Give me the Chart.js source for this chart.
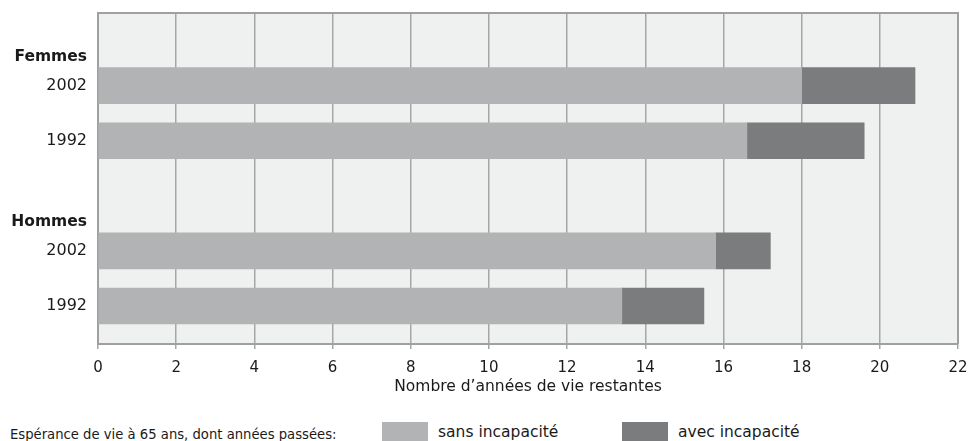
<!DOCTYPE html>
<html lang="fr">
<head>
<meta charset="UTF-8">
<title>Espérance de vie à 65 ans</title>
<script src="https://cdn.jsdelivr.net/npm/chart.js"></script>
<style>
  body { margin: 0; background: #fff; font-family: 'DejaVu Sans', sans-serif; color: #1a1a1a; }
  .wrap { position: relative; width: 974px; height: 441px; overflow: hidden; }
  .chart-box { position: absolute; left: 0; top: 0; width: 974px; height: 400px; }
  .legend { position: absolute; left: 0; top: 422px; width: 974px; height: 20px; font-size: 15.5px; }
  .legend .caption { position: absolute; left: 10px; top: 4px; font-size: 13.2px; line-height: 18px; }
  .legend .swatch { position: absolute; top: 0; width: 46px; height: 20px; }
  .legend .label { position: absolute; top: 0; line-height: 20px; }
</style>
</head>
<body>
<div class="wrap">
  <div class="chart-box"><canvas id="chart"></canvas></div>
  <div class="legend">
    <span class="caption">Espérance de vie à 65 ans, dont années passées:</span>
    <span class="swatch" style="left:382px;background:#b2b3b4"></span>
    <span class="label" style="left:438px" id="lab0"></span>
    <span class="swatch" style="left:622px;background:#7b7c7d"></span>
    <span class="label" style="left:678px" id="lab1"></span>
  </div>
</div>
<script>
  // data
  const groups = ['Femmes', 'Hommes'];
  const years = ['2002', '1992'];
  const seriesNames = ['sans incapacité', 'avec incapacité'];
  const sansIncapacite = [18.0, 16.6, 15.8, 13.4];
  const avecIncapacite = [2.9, 3.0, 1.4, 2.1];
  const xTicks = [0, 2, 4, 6, 8, 10, 12, 14, 16, 18, 20, 22];
  const xTitle = "Nombre d’années de vie restantes";

  const colors = ['#b2b3b4', '#7b7c7d'];
  const gridColor = '#a6a6a6';

  // rows on a linear axis: a header line per group, then one bar per year
  const yTicks = [];
  const rowPos = [];
  groups.forEach((g, gi) => {
    const base = gi * 3;
    yTicks.push({ value: base + 0.79, label: g, bold: true });
    years.forEach((y, yi) => {
      rowPos.push(base + 1.32 + yi);
      yTicks.push({ value: base + 1.32 + yi, label: y, bold: false });
    });
  });

  document.getElementById('lab0').textContent = seriesNames[0];
  document.getElementById('lab1').textContent = seriesNames[1];

  const plotFrame = {
    id: 'plotFrame',
    beforeDraw(chart) {
      const { ctx, chartArea: a } = chart;
      ctx.save();
      ctx.fillStyle = '#eff1f0';
      ctx.fillRect(a.left, a.top, a.right - a.left, a.bottom - a.top);
      ctx.restore();
    },
    afterDraw(chart) {
      const { ctx, chartArea: a } = chart;
      ctx.save();
      ctx.strokeStyle = '#a0a0a0';
      ctx.lineWidth = 2;
      ctx.beginPath();
      ctx.moveTo(a.left, a.top);
      ctx.lineTo(a.right, a.top);
      ctx.lineTo(a.right, a.bottom);
      ctx.stroke();
      ctx.restore();
    }
  };

  Chart.defaults.font.family = "'DejaVu Sans', sans-serif";
  Chart.defaults.color = '#1a1a1a';

  new Chart(document.getElementById('chart'), {
    type: 'bar',
    data: {
      datasets: [
        {
          label: seriesNames[0],
          data: sansIncapacite.map((v, i) => ({ x: v, y: rowPos[i] })),
          backgroundColor: colors[0]
        },
        {
          label: seriesNames[1],
          data: avecIncapacite.map((v, i) => ({ x: v, y: rowPos[i] })),
          backgroundColor: colors[1]
        }
      ]
    },
    options: {
      indexAxis: 'y',
      responsive: true,
      maintainAspectRatio: false,
      animation: false,
      barThickness: 36,
      layout: { padding: { top: 13, right: 0, left: 0, bottom: 0 } },
      plugins: { legend: { display: false }, tooltip: { enabled: false } },
      scales: {
        x: {
          type: 'linear',
          stacked: true,
          min: 0,
          max: 22,
          afterBuildTicks: s => { s.ticks = xTicks.map(v => ({ value: v })); },
          afterFit: s => { s.height = 56; s.paddingLeft = 0; s.paddingRight = 16; },
          grid: { color: gridColor, lineWidth: 1.5, tickLength: 5, drawTicks: true },
          border: { display: true, color: '#a0a0a0', width: 2 },
          ticks: { font: { size: 15 }, padding: 10, color: '#1a1a1a' },
          title: {
            display: true,
            text: xTitle,
            font: { size: 15.5 },
            color: '#1a1a1a',
            padding: { top: 2, bottom: 4 }
          }
        },
        y: {
          type: 'linear',
          stacked: true,
          reverse: true,
          offset: false,
          min: 0,
          max: 6.01,
          afterBuildTicks: s => { s.ticks = yTicks.map(t => ({ value: t.value })); },
          afterFit: s => { s.width = 98; s.paddingTop = 0; s.paddingBottom = 0; },
          grid: { display: false, drawTicks: false, offset: false },
          border: { display: true, color: '#a0a0a0', width: 2 },
          ticks: {
            autoSkip: false,
            padding: 11,
            color: '#1a1a1a',
            callback: (v, i) => yTicks[i].label,
            font: ctx => ({ size: yTicks[ctx.index] && yTicks[ctx.index].bold ? 15.5 : 16,
                            weight: yTicks[ctx.index] && yTicks[ctx.index].bold ? 'bold' : 'normal' })
          }
        }
      }
    },
    plugins: [plotFrame]
  });
</script>
</body>
</html>
